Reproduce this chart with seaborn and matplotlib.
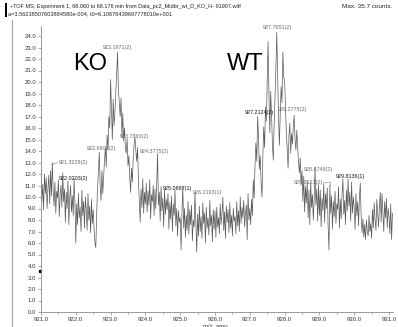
import numpy as np
import pandas as pd
import matplotlib
matplotlib.use("Agg")
import matplotlib.pyplot as plt
from matplotlib.ticker import MultipleLocator, FormatStrFormatter
from matplotlib.patches import Rectangle
from matplotlib.lines import Line2D
import seaborn as sns

# TOF MS spectrum, intensity (counts) sampled every 0.025 m/z, one list per m/z unit
MZ_START = 921.0
MZ_STEP = 0.025
u921 = [12.4, 9.6, 11.1, 8.9, 12.0, 10.3, 11.7, 9.0, 10.8, 11.9, 9.4, 12.3, 10.1, 13.0,
        10.6, 9.2, 11.3, 8.6, 10.5, 9.9, 11.5, 8.3, 10.2, 11.0, 9.1, 12.1, 9.6, 10.7,
        7.8, 10.4, 9.0, 11.4, 7.6, 9.8, 11.0, 8.7, 10.1, 8.4, 11.6, 9.5]
u922 = [6.0, 9.4, 7.6, 10.3, 8.2, 9.1, 7.0, 10.6, 8.4, 9.6, 7.3, 10.0, 8.8, 7.1,
        10.3, 8.0, 9.2, 6.9, 9.8, 7.7, 8.9, 7.2, 6.0, 5.6, 8.6, 10.8, 12.2, 13.9,
        11.0, 9.7, 12.3, 10.3, 11.8, 13.2, 14.3, 12.6, 15.4, 14.1, 17.0, 16.0]
u923 = [20.2, 17.6, 15.0, 18.5, 16.2, 17.4, 19.0, 20.8, 22.6, 19.3, 18.1, 17.0, 18.6, 15.2,
        17.3, 14.9, 16.0, 14.2, 13.8, 15.1, 12.7, 13.6, 11.7, 10.4, 12.5, 11.3, 13.4, 14.6,
        15.2, 14.0, 13.1, 14.3, 11.5, 9.6, 7.8, 10.7, 9.1, 11.6, 8.6, 10.4]
u924 = [9.4, 11.2, 8.7, 10.5, 9.3, 11.5, 8.1, 10.2, 9.6, 11.0, 8.4, 10.7, 9.0, 11.2,
        13.8, 9.3, 10.4, 7.9, 10.9, 8.8, 9.9, 7.4, 10.6, 8.5, 9.8, 8.9, 10.3, 7.2,
        9.5, 8.1, 10.1, 7.0, 9.4, 8.4, 10.6, 7.5, 9.0, 6.6, 8.8, 7.8]
u925 = [8.2, 5.4, 8.6, 10.9, 7.3, 9.0, 6.5, 8.4, 7.1, 9.6, 6.8, 8.9, 7.6, 9.3,
        6.2, 8.0, 7.4, 10.4, 7.9, 5.2, 8.5, 6.6, 9.2, 7.0, 8.3, 6.4, 9.5, 7.7,
        8.6, 6.0, 9.1, 7.3, 8.2, 6.7, 9.7, 7.5, 8.4, 6.1, 8.9, 7.2]
u926 = [8.8, 6.5, 9.1, 7.4, 8.2, 6.8, 9.4, 7.6, 8.5, 10.0, 7.1, 8.7, 6.4, 9.2,
        7.8, 8.9, 6.9, 9.5, 7.3, 8.4, 6.6, 9.0, 7.9, 8.3, 6.8, 9.6, 7.5, 8.8,
        7.0, 10.0, 7.7, 9.1, 8.2, 9.7, 7.4, 8.6, 9.3, 6.3, 10.3, 8.0]
u927 = [9.0, 7.6, 9.8, 8.4, 11.5, 9.9, 12.8, 14.7, 13.1, 17.0, 15.2, 12.4, 13.6, 11.2,
        10.0, 13.5, 16.1, 14.3, 17.8, 16.6, 20.0, 23.5, 18.9, 15.6, 19.2, 17.1, 14.6, 13.2,
        16.4, 18.7, 21.3, 24.3, 20.8, 16.9, 14.5, 17.3, 19.6, 18.2, 22.6, 20.4]
u928 = [20.2, 18.0, 15.6, 14.2, 12.5, 15.3, 16.4, 13.8, 15.5, 14.6, 16.2, 17.1, 15.0, 14.1,
        15.8, 14.4, 13.0, 12.1, 13.4, 11.0, 12.3, 9.6, 11.8, 8.7, 10.9, 9.5, 11.4, 8.2,
        10.6, 7.6, 11.3, 9.1, 10.2, 8.0, 9.8, 12.6, 9.3, 10.7, 7.9, 11.1]
u929 = [8.4, 10.6, 7.4, 9.9, 8.8, 11.2, 7.8, 10.3, 9.0, 10.8, 7.5, 5.4, 11.0, 8.6,
        10.1, 7.2, 9.6, 8.3, 10.5, 7.7, 9.4, 8.9, 10.9, 7.3, 9.8, 8.1, 10.2, 11.6,
        8.5, 9.7, 7.6, 10.6, 8.8, 11.6, 9.2, 10.4, 7.9, 11.3, 8.6, 10.0]
u930 = [9.1, 7.2, 10.3, 8.4, 9.6, 7.5, 10.0, 11.2, 8.3, 6.9, 8.1, 6.5, 7.6, 6.3,
        8.0, 7.1, 6.6, 8.4, 7.0, 7.7, 6.4, 8.9, 7.3, 9.5, 8.0, 7.1, 9.8, 8.6,
        7.4, 9.2, 10.4, 7.8, 10.3, 8.7, 7.0, 9.6, 8.2, 9.9, 7.3, 9.0]
u931 = [8.3, 6.8, 9.4, 6.3, 8.6]

# labelled peaks: text, label position (m/z, counts), colour, alignment
peak_labels = [
    ("921.3229(2)", 921.503, 13.04, "#6a6a6a", "left"),
    ("922.0203(2)", 921.920, 11.65, "#111111", "center"),
    ("922.6802(2)", 922.724, 14.26, "#6a6a6a", "center"),
    ("923.1971(2)", 923.198, 23.04, "#6a6a6a", "center"),
    ("923.7860(2)", 923.672, 15.22, "#6a6a6a", "center"),
    ("924.3775(2)", 924.247, 14.00, "#6a6a6a", "center"),
    ("925.0887(1)", 924.922, 10.70, "#111111", "center"),
    ("926.2193(1)", 925.770, 10.35, "#6a6a6a", "center"),
    ("927.7651(2)", 927.782, 24.78, "#6a6a6a", "center"),
    ("927.2124(2)", 927.264, 17.39, "#111111", "center"),
    ("928.2775(2)", 928.227, 17.57, "#6a6a6a", "center"),
    ("928.8748(2)", 928.960, 12.35, "#6a6a6a", "center"),
    ("929.3123(2)", 928.687, 11.30, "#6a6a6a", "center"),
    ("929.8136(1)", 929.879, 11.74, "#111111", "center"),
]

x_ticks = [921.0, 922.0, 923.0, 924.0, 925.0, 926.0, 927.0, 928.0, 929.0, 930.0, 931.0]

intensity = u921 + u922 + u923 + u924 + u925 + u926 + u927 + u928 + u929 + u930 + u931
mz = MZ_START + MZ_STEP * np.arange(len(intensity))
df = pd.DataFrame({"mz": mz, "intensity": intensity})

sns.set_theme(style="white")
plt.rcParams["font.family"] = ["Liberation Sans", "DejaVu Sans"]

W, H = 398, 327
fig = plt.figure(figsize=(W / 100, H / 100), dpi=100)
fig.patch.set_facecolor("white")

PX_PER_MZ = 34.8
PX_PER_COUNT = 11.5
X_MAX = 931.11
Y_MAX = 24.9
ax = fig.add_axes([41 / W, 15 / H, (X_MAX - 921.0) * PX_PER_MZ / W, Y_MAX * PX_PER_COUNT / H])
ax.set_facecolor("white")

sns.lineplot(data=df, x="mz", y="intensity", ax=ax, color="#5a5a5a", lw=0.5,
             estimator=None, sort=False)

ax.set_xlim(921.0, X_MAX)
ax.set_ylim(0, Y_MAX)
ax.set_xticks(x_ticks)
ax.xaxis.set_minor_locator(MultipleLocator(0.5))
ax.yaxis.set_major_locator(MultipleLocator(1.0))
ax.xaxis.set_major_formatter(FormatStrFormatter("%.1f"))
ax.yaxis.set_major_formatter(FormatStrFormatter("%.1f"))
ax.set_xlabel("")
ax.set_ylabel("")
for side in ("top", "right"):
    ax.spines[side].set_visible(False)
for side in ("left", "bottom"):
    ax.spines[side].set_color("#8a8a8a")
    ax.spines[side].set_linewidth(0.6)
ax.tick_params(axis="both", which="major", length=2.5, width=0.5, color="#8a8a8a",
               labelsize=4.3, labelcolor="#333333", pad=1, direction="out",
               bottom=True, left=True)
ax.tick_params(axis="x", which="minor", length=1.5, width=0.5, color="#8a8a8a",
               bottom=True)

# peak annotations
for text, x, y, col, ha in peak_labels:
    ax.text(x, y, text, fontsize=3.9, color=col, ha=ha, va="center", clip_on=False)
ax.plot([921.287, 921.474], [12.78, 12.99], color="#7a7a7a", lw=0.4)
ax.plot([929.132, 929.30, 929.30], [11.30, 11.30, 11.0], color="#7a7a7a", lw=0.4)

# sample group labels
ax.text(922.40, 21.6, "KO", fontsize=17, color="black", ha="center", va="center")
ax.text(926.87, 21.6, "WT", fontsize=17, color="black", ha="center", va="center")

# threshold marker on the intensity axis
ax.plot([920.96], [3.6], marker="s", ms=1.4, color="black", clip_on=False)

fig.text(215 / W, 1 - 323.5 / H, "m/z, amu", fontsize=4.3, color="#333333",
         ha="center", va="top")

# header lines
fig.text(10 / W, 1 - 6.5 / H, "+TOF MS: Experiment 1, 68.060 to 68.176 min from "
         "Data_pc2_Midbr_wt_D_KO_H- 91907.wiff", fontsize=4.0, color="#222222",
         ha="left", va="center")
fig.text(8.5 / W, 1 - 14 / H, "a=3.56238507603884580e-004, t0=6.10676439697778010e+001",
         fontsize=4.1, color="#222222", ha="left", va="center")
fig.text(342 / W, 1 - 6.5 / H, "Max. 35.7 counts.", fontsize=4.6, color="#222222",
         ha="left", va="center")

fig.add_artist(Rectangle((5 / W, 1 - 17 / H), 2 / W, 14 / H, transform=fig.transFigure,
                         facecolor="black", edgecolor="none"))
fig.add_artist(Line2D([11.5 / W, 11.5 / W], [0, 1 - 20 / H], transform=fig.transFigure,
                      color="#a0a0a0", lw=0.8))

fig.savefig("out.png", dpi=100, facecolor="white")
